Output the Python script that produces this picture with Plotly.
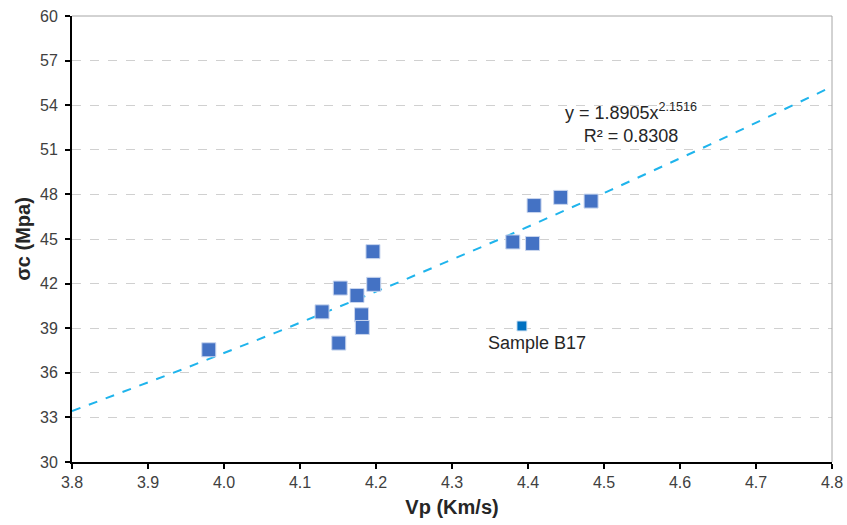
import numpy as np
import plotly.graph_objects as go

# Data
vp = [3.980, 4.129, 4.153, 4.151, 4.175, 4.181, 4.182, 4.197, 4.196,
      4.380, 4.406, 4.408, 4.443, 4.483]
sigma_c = [37.55, 40.1, 41.7, 38.0, 41.2, 39.9, 39.05, 41.95, 44.15,
           44.8, 44.7, 47.25, 47.8, 47.55]
b17_vp = [4.392]
b17_sigma = [39.15]
b17_label = "Sample B17"

# Power trendline coefficients shown on the chart
fit_a = 1.8905
fit_b = 2.1516
fit_r2 = 0.8308

x_ticks = [3.8, 3.9, 4.0, 4.1, 4.2, 4.3, 4.4, 4.5, 4.6, 4.7, 4.8]
y_ticks = [30, 33, 36, 39, 42, 45, 48, 51, 54, 57, 60]

FONT = "Liberation Sans, Arial, sans-serif"

xs = np.linspace(3.8, 4.8, 200)
ys = fit_a * xs ** fit_b

fig = go.Figure()
fig.add_trace(go.Scatter(
    x=xs, y=ys, mode="lines",
    line=dict(color="#1FB4EC", width=2, dash="dash"),
    hoverinfo="skip", showlegend=False))
fig.add_trace(go.Scatter(
    x=vp, y=sigma_c, mode="markers",
    marker=dict(symbol="square", size=14, color="#4472C4",
                line=dict(color="#C9D6EE", width=1)),
    showlegend=False))
fig.add_trace(go.Scatter(
    x=b17_vp, y=b17_sigma, mode="markers",
    marker=dict(symbol="square", size=10, color="#0070C0",
                line=dict(color="#D6E6F5", width=1)),
    showlegend=False))

fig.add_annotation(x=b17_vp[0], y=b17_sigma[0], text=b17_label,
                   showarrow=False, xanchor="center", yanchor="top",
                   xshift=15, yshift=-5,
                   font=dict(family=FONT, size=18, color="#262626"))
fig.add_annotation(x=4.535, y=52.8,
                   text=f"y = {fit_a}x<sup>{fit_b}</sup><br>R² = {fit_r2}",
                   showarrow=False, xanchor="center", yanchor="middle",
                   align="center",
                   font=dict(family=FONT, size=18, color="#262626"))

axis_common = dict(
    showline=True, linecolor="black", linewidth=2,
    ticks="outside", ticklen=5, tickwidth=2, tickcolor="black",
    tickfont=dict(family=FONT, size=16, color="#404040"),
    zeroline=False, mirror=False, automargin=False,
    ticklabeloverflow="allow",
)

fig.update_xaxes(range=[3.8, 4.8], tickvals=x_ticks,
                 ticktext=[f"{v:.1f}" for v in x_ticks],
                 showgrid=False,
                 title=dict(text="<b>Vp (Km/s)</b>", standoff=10,
                            font=dict(family=FONT, size=20, color="#262626")),
                 **axis_common)
fig.update_yaxes(range=[30, 60], tickvals=y_ticks,
                 showgrid=True, gridcolor="#D0D0D0", griddash="dash", gridwidth=1,
                 ticklabelstandoff=4,
                 title=dict(text="<b>σc (Mpa)</b>", standoff=4,
                            font=dict(family=FONT, size=20, color="#262626")),
                 **axis_common)

# top / right light border
fig.add_shape(type="line", xref="paper", yref="paper", x0=0, x1=1, y0=1, y1=1,
              line=dict(color="#A6A6A6", width=1))
fig.add_shape(type="line", xref="paper", yref="paper", x0=1, x1=1, y0=0, y1=1,
              line=dict(color="#A6A6A6", width=1))

fig.update_layout(
    width=847, height=525,
    margin=dict(l=72, r=15, t=16, b=63),
    plot_bgcolor="white", paper_bgcolor="white",
)

fig.write_html(
    "out.html",
    config={"displayModeBar": False},
    post_script="document.body.style.margin='0';document.body.style.overflow='hidden';",
)
